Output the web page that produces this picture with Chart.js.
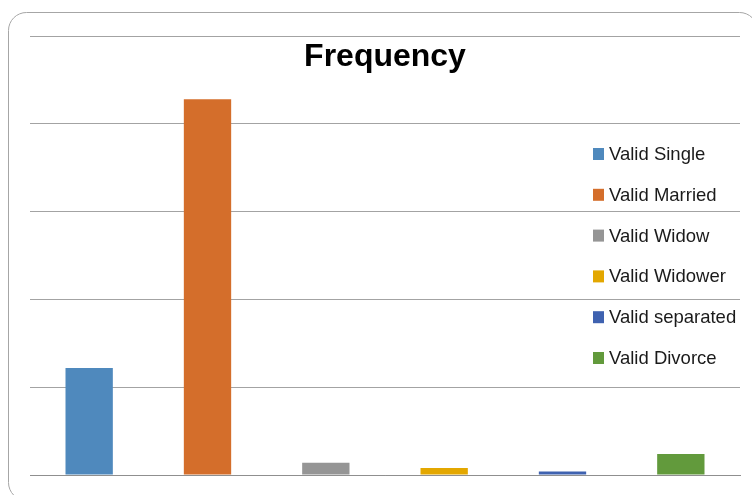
<!DOCTYPE html>
<html>
<head>
<meta charset="utf-8">
<script src="https://cdn.jsdelivr.net/npm/chart.js@4/dist/chart.umd.min.js"></script>
<style>
  html, body { margin: 0; padding: 0; background: #fff; }
  #wrap { width: 752px; height: 495px; }
</style>
</head>
<body>
<div id="wrap"><canvas id="chartFreq" width="752" height="495"></canvas></div>
<script>
/* Frequency by marital status - bar chart with overlaid legend */

const categories = ['Valid Single','Valid Married','Valid Widow','Valid Widower','Valid separated','Valid Divorce'];
const frequency = [61, 214, 7, 4, 2, 12];
const barColors = ['#4f89bd','#d46e2b','#959595','#e3a700','#3f62b0','#629a3c'];
const yTicks = [0, 50, 100, 150, 200, 250];

const FONT = "'Liberation Sans', Arial, sans-serif";

// rounded outer frame + title + legend drawn on top of the plot
const decor = {
  id: 'decor',
  beforeDraw(chart){
    const c = chart.ctx;
    c.save();
    c.strokeStyle = '#a6a6a6';
    c.lineWidth = 1;
    c.beginPath();
    c.roundRect(8.5, 12.5, 749, 488, 18);
    c.stroke();
    c.restore();
  },
  afterDraw(chart){
    const c = chart.ctx, a = chart.chartArea;
    c.save();
    // title
    c.fillStyle = '#000';
    c.font = 'bold 32px ' + FONT;
    c.textAlign = 'center';
    c.textBaseline = 'middle';
    c.fillText('Frequency', (a.left + a.right)/2, 57);
    // legend
    c.font = '18.5px ' + FONT;
    c.textAlign = 'left';
    const lx = 593, ly = 154, gap = 40.8;
    chart.data.labels.forEach((lab, i)=>{
      const y = ly + i*gap;
      c.fillStyle = chart.data.datasets[0].backgroundColor[i];
      c.fillRect(lx, y - 6, 11, 12);
      c.fillStyle = '#1a1a1a';
      c.fillText(lab, lx + 16, y + 1);
    });
    c.restore();
  }
};

new Chart(document.getElementById('chartFreq'), {
  type: 'bar',
  data: {
    labels: categories,
    datasets: [{ data: frequency, backgroundColor: barColors, borderWidth: 0, categoryPercentage: 1, barPercentage: 0.4 }]
  },
  options: {
    responsive: false,
    animation: false,
    layout: { padding: { left: 30, right: 12, top: 36, bottom: 20 } },
    plugins: { legend: { display: false }, title: { display: false }, tooltip: { enabled: false } },
    scales: {
      x: {
        grid: { display: false, drawTicks: false },
        border: { display: true, color: '#8f8f8f', width: 1 },
        ticks: { display: false }
      },
      y: {
        min: yTicks[0], max: yTicks[yTicks.length-1],
        afterBuildTicks: axis => { axis.ticks = yTicks.map(v => ({ value: v })); },
        grid: { color: '#a3a3a3', drawTicks: false },
        border: { display: false },
        ticks: { display: false }
      }
    }
  },
  plugins: [decor]
});
</script>
</body>
</html>
